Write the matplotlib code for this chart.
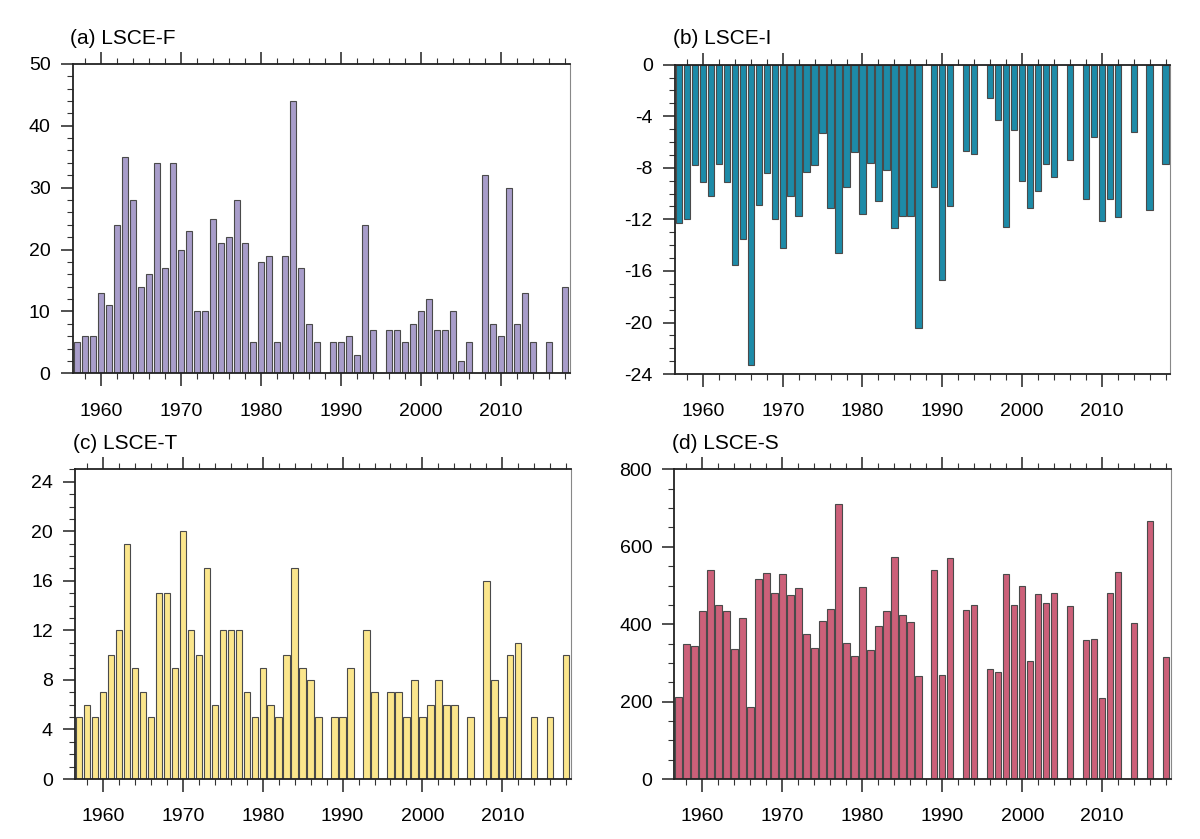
import numpy as np
import matplotlib
matplotlib.use('Agg')
import matplotlib.pyplot as plt
import matplotlib.ticker as mtick

plt.rcParams['font.family'] = ['Liberation Sans', 'DejaVu Sans']
plt.rcParams['axes.unicode_minus'] = False

nan = np.nan
years = list(range(1957, 2019))

lsce_f = [5, 6, 6, 13, 11, 24, 35, 28, 14, 16, 34, 17, 34, 20, 23, 10, 10, 25, 21, 22,
          28, 21, 5, 18, 19, 5, 19, 44, 17, 8, 5,
          nan, 5, 5, 6, 3, 24, 7, nan, 7, 7, 5, 8, 10, 12, 7, 7, 10, 2, 5, nan,
          32, 8, 6, 30, 8, 13, 5, nan, 5, nan, 14]
lsce_i = [-12.3, -12.0, -7.8, -9.1, -10.2, -7.7, -9.1, -15.5, -13.5, -23.3, -10.9, -8.4,
          -12.0, -14.2, -10.2, -11.7, -8.3, -7.8, -5.3, -11.1, -14.6, -9.5, -6.8, -11.6,
          -7.6, -10.6, -8.2, -12.7, -11.7, -11.7, -20.4,
          nan, -9.5, -16.7, -11.0, nan, -6.7, -6.9, nan, -2.6, -4.3, -12.6, -5.1, -9.0,
          -11.1, -9.8, -7.7, -8.7, nan, -7.4, nan, -10.4, -5.6, -12.1, -10.45, -11.85,
          nan, -5.2, nan, -11.3, nan, -7.7]
lsce_t = [5, 6, 5, 7, 10, 12, 19, 9, 7, 5, 15, 15, 9, 20, 12, 10, 17, 6, 12, 12, 12, 7,
          5, 9, 6, 5, 10, 17, 9, 8, 5,
          nan, 5, 5, 9, nan, 12, 7, nan, 7, 7, 5, 8, 5, 6, 8, 6, 6, nan, 5, nan,
          16, 8, 5, 10, 11, nan, 5, nan, 5, nan, 10]
lsce_s = [213, 350, 343, 435, 541, 449, 433, 336, 415, 186, 517, 532, 481, 529, 475, 494,
          374, 339, 408, 439, 710, 351, 317, 496, 333, 396, 435, 574, 425, 406, 267,
          nan, 539, 269, 572, nan, 438, 450, nan, 285, 276, 529, 450, 500, 306, 478, 455,
          481, nan, 448, nan, 359, 362, 210, 481, 535, nan, 402, nan, 666, nan, 315]

panels = [
    ('(a) LSCE-F', lsce_f, '#A89DCA', (0, 50), 10, 2, [0.0606, 0.555, 0.414, 0.369]),
    ('(b) LSCE-I', lsce_i, '#1D8BA8', (-24, 0), 4, 1, [0.5625, 0.554, 0.4125, 0.369]),
    ('(c) LSCE-T', lsce_t, '#FBE68C', (0, 25), 4, 1, [0.0625, 0.0715, 0.413, 0.369]),
    ('(d) LSCE-S', lsce_s, '#CC6079', (0, 800), 200, 50, [0.562, 0.0715, 0.4135, 0.369]),
]

fig = plt.figure(figsize=(12, 8.39), dpi=100)

for title, vals, col, ylim, major, minor, pos in panels:
    ax = fig.add_axes(pos)
    ax.bar(years, vals, width=0.8, color=col, edgecolor='#4a4a4a', linewidth=0.8)
    ax.set_xlim(1956.5, 2018.55)
    ax.set_ylim(*ylim)
    ax.xaxis.set_major_locator(mtick.MultipleLocator(10))
    ax.xaxis.set_minor_locator(mtick.MultipleLocator(2))
    if ylim[1] == 25:
        ax.set_yticks(np.arange(0, 25, 4))
    else:
        ax.yaxis.set_major_locator(mtick.MultipleLocator(major))
    ax.yaxis.set_minor_locator(mtick.MultipleLocator(minor))
    ax.tick_params(axis='x', which='both', direction='out', top=True, bottom=True,
                   labeltop=False, labelsize=14, width=1.2, color='#333333')
    ax.tick_params(axis='y', which='both', direction='out', left=True, right=False,
                   labelsize=14, width=1.2, color='#333333')
    ax.tick_params(which='major', length=9)
    ax.tick_params(axis='x', which='major', pad=12)
    ax.tick_params(axis='y', which='major', pad=7)
    ax.tick_params(which='minor', length=4, width=0.8)
    for s in ['left', 'bottom', 'top']:
        ax.spines[s].set_linewidth(1.3)
        ax.spines[s].set_color('#222222')
    ax.spines['right'].set_linewidth(0.8)
    ax.spines['right'].set_color('#888888')
    ax.text(-0.005, 1.065, title, transform=ax.transAxes, fontsize=15,
            ha='left', va='baseline')

fig.savefig('out.png', dpi=100)
